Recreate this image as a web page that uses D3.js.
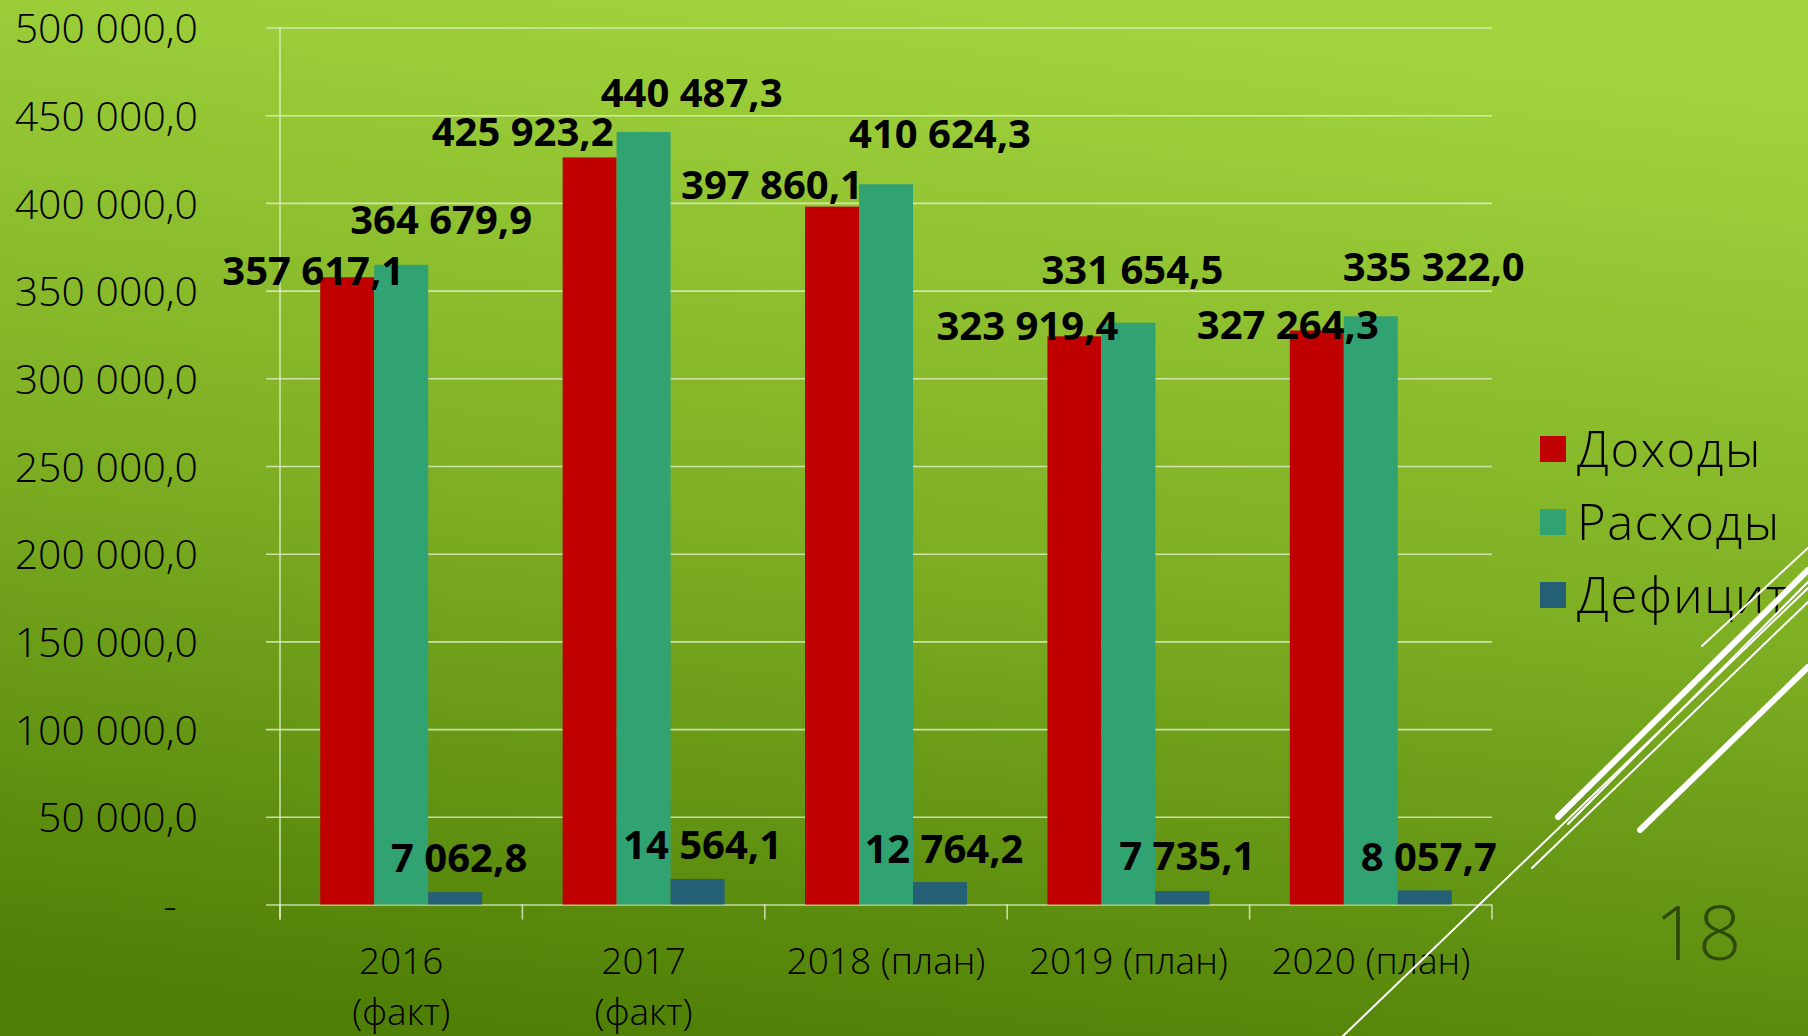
<!DOCTYPE html>
<html>
<head>
<meta charset="utf-8">
<script src="https://cdn.jsdelivr.net/npm/d3@7"></script>
<style>
  html, body { margin: 0; padding: 0; overflow: hidden; }
  svg { display: block; }
</style>
</head>
<body>
<div id="chart"></div>
<script>
// Data
const categories = ["2016 (факт)", "2017 (факт)", "2018 (план)", "2019 (план)", "2020 (план)"];
const categoryLines = [["2016", "(факт)"], ["2017", "(факт)"], ["2018 (план)"], ["2019 (план)"], ["2020 (план)"]];
const seriesNames = ["Доходы", "Расходы", "Дефицит"];
const incomeValues = [357617.1, 425923.2, 397860.1, 323919.4, 327264.3];
const expenseValues = [364679.9, 440487.3, 410624.3, 331654.5, 335322.0];
const deficitValues = [7062.8, 14564.1, 12764.2, 7735.1, 8057.7];
const yTicks = [0, 50000, 100000, 150000, 200000, 250000, 300000, 350000, 400000, 450000, 500000];
const pageNumber = "18";

// Layout / style
const W = 1808, H = 1036;
const margin = { top: 27.5, left: 280 };
const plotWidth = 1212;
const plotHeight = 877;
const colors = ["#c00000", "#31a373", "#246075"];
// label nudges (dx, dy) per series, per category, as placed on the slide
const labelNudge = [
    [[-34, -7], [-67, -26], [-60, -22], [-47, -11], [-29, -6]],
    [[40, -45], [48, -39], [54, -51], [4, -53], [63, -50]],
    [[4, -35], [5, -34], [4, -34], [5, -35], [4, -34]]
];
// slide decoration strokes [x1, y1, x2, y2, width]
const decor = [
    [1343, 1036, 1808, 588, 2],
    [1702, 646, 1808, 548, 2],
    [1558, 817, 1808, 570, 6],
    [1568, 824, 1808, 582, 2],
    [1532, 868, 1808, 602, 2],
    [1640, 830, 1808, 667, 6]
];

const seriesValues = [incomeValues, expenseValues, deficitValues];
const rows = [];
seriesValues.forEach((vals, s) => {
    vals.forEach((v, i) => rows.push({ s: s, i: i, cat: categories[i], name: seriesNames[s], value: v }));
});

const ru = d3.formatLocale({ decimal: ",", thousands: " ", grouping: [3], currency: ["", ""] });
const fmt = ru.format(",.1f");

const svg = d3.select("#chart").append("svg")
    .attr("width", W)
    .attr("height", H);

// Background gradient
const defs = svg.append("defs");
const grad = defs.append("linearGradient")
    .attr("id", "bg")
    .attr("x1", "0.55").attr("y1", "0")
    .attr("x2", "0.35").attr("y2", "1");
grad.append("stop").attr("offset", "0").attr("stop-color", "#a2d43e");
grad.append("stop").attr("offset", "0.5").attr("stop-color", "#7fb024");
grad.append("stop").attr("offset", "1").attr("stop-color", "#4f7f06");
svg.append("rect").attr("width", W).attr("height", H).attr("fill", "url(#bg)");

const g = svg.append("g")
    .attr("transform", `translate(${margin.left}, ${margin.top})`);

// Scales
const x = d3.scaleBand()
    .domain(categories)
    .range([0, plotWidth])
    .padding(0);

const xs = d3.scaleBand()
    .domain(seriesNames)
    .range([0, x.bandwidth()])
    .paddingInner(0)
    .paddingOuter(0.745);

const y = d3.scaleLinear()
    .domain([0, 500000])
    .range([plotHeight, 0]);

// Y axis with gridlines
const yAxis = d3.axisLeft(y)
    .tickValues(yTicks)
    .tickSizeInner(-(plotWidth + 14))
    .tickSizeOuter(0)
    .tickPadding(68)
    .tickFormat(d => d === 0 ? "-\u00A0\u00A0" : fmt(d));

const yG = g.append("g")
    .attr("transform", "translate(-14, 0)")
    .call(yAxis);
yG.select(".domain").remove();
yG.selectAll(".tick line")
    .attr("stroke", "#e4efc8")
    .attr("stroke-opacity", 0.8)
    .attr("stroke-width", 1.6);
yG.selectAll(".tick text")
    .attr("fill", "#000")
    .attr("dy", "0.37em")
    .style("font-family", "'Open Sans', sans-serif")
    .style("font-weight", 300)
    .style("font-size", "41px");

// vertical axis line
g.append("line")
    .attr("x1", 0).attr("x2", 0)
    .attr("y1", y(500000)).attr("y2", plotHeight + 15)
    .attr("stroke", "#e4efc8")
    .attr("stroke-opacity", 0.8)
    .attr("stroke-width", 1.6);

// category boundary ticks
const edges = categories.map(c => x(c)).concat([x(categories[categories.length - 1]) + x.bandwidth()]);
g.selectAll(".xtick")
    .data(edges)
    .enter()
    .append("line")
    .attr("class", "xtick")
    .attr("x1", d => d).attr("x2", d => d)
    .attr("y1", plotHeight).attr("y2", plotHeight + 15)
    .attr("stroke", "#e4efc8")
    .attr("stroke-opacity", 0.8)
    .attr("stroke-width", 1.6);

// Bars
g.selectAll(".bar")
    .data(rows)
    .enter()
    .append("rect")
    .attr("class", "bar")
    .attr("x", d => x(d.cat) + xs(d.name))
    .attr("y", d => y(d.value))
    .attr("width", xs.bandwidth())
    .attr("height", d => plotHeight - y(d.value))
    .attr("fill", d => colors[d.s]);

// Value labels
g.selectAll(".value-label")
    .data(rows)
    .enter()
    .append("text")
    .attr("class", "value-label")
    .attr("x", d => x(d.cat) + xs(d.name) + xs.bandwidth() / 2 + labelNudge[d.s][d.i][0])
    .attr("y", d => y(d.value) + labelNudge[d.s][d.i][1])
    .attr("dy", "0.36em")
    .attr("text-anchor", "middle")
    .style("font-family", "'Open Sans', sans-serif")
    .style("font-weight", 700)
    .style("font-size", "40px")
    .attr("fill", "#000")
    .text(d => fmt(d.value));

// Category labels (one text per line)
categories.forEach((c, i) => {
    categoryLines[i].forEach((line, k) => {
        g.append("text")
            .attr("class", "x-label")
            .attr("x", x(c) + x.bandwidth() / 2)
            .attr("y", plotHeight + 69.5 + k * 50.6)
            .attr("text-anchor", "middle")
            .style("font-family", "'Open Sans', sans-serif")
            .style("font-weight", 300)
            .style("font-size", "37px")
            .attr("fill", "#000")
            .text(line);
    });
});

// Legend
const legend = svg.append("g")
    .attr("transform", "translate(1540, 449)");
const legendItems = legend.selectAll(".legend-item")
    .data(seriesNames)
    .enter()
    .append("g")
    .attr("class", "legend-item")
    .attr("transform", (d, i) => `translate(0, ${i * 73})`);
legendItems.append("rect")
    .attr("x", 0).attr("y", -13)
    .attr("width", 26).attr("height", 26)
    .attr("fill", (d, i) => colors[i]);
legendItems.append("text")
    .attr("x", 37)
    .attr("dy", "0.36em")
    .style("font-family", "'Open Sans', sans-serif")
    .style("font-weight", 300)
    .style("font-size", "49px")
    .style("letter-spacing", "1.5px")
    .attr("fill", "#000")
    .text(d => d);

// Decoration strokes
svg.selectAll(".decor")
    .data(decor)
    .enter()
    .append("line")
    .attr("class", "decor")
    .attr("x1", d => d[0]).attr("y1", d => d[1])
    .attr("x2", d => d[2]).attr("y2", d => d[3])
    .attr("stroke", "#fff")
    .attr("stroke-width", d => d[4])
    .attr("stroke-linecap", "round");

// Page number
svg.append("text")
    .attr("x", 1698)
    .attr("y", 960)
    .attr("text-anchor", "middle")
    .style("font-family", "'Open Sans', sans-serif")
    .style("font-weight", 300)
    .style("font-size", "76px")
    .attr("fill", "#2f4a08")
    .text(pageNumber);
</script>
</body>
</html>
